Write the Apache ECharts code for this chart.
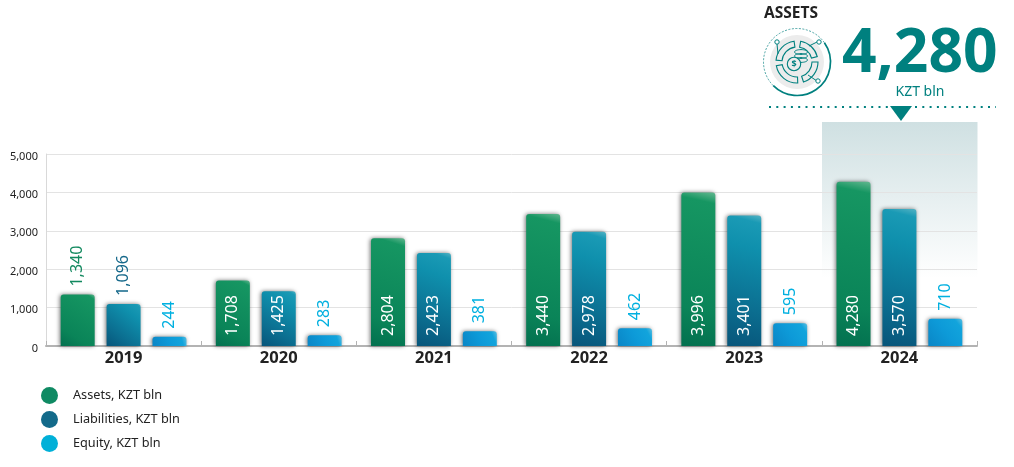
<!DOCTYPE html>
<html><head><meta charset="utf-8">
<style>html,body{margin:0;padding:0;background:#fff}#c{width:1014px;height:467px}</style>
<script src="https://cdn.jsdelivr.net/npm/echarts@6/dist/echarts.min.js"></script>
</head><body><div id="c"></div>
<script>
const years = ['2019','2020','2021','2022','2023','2024'];
const assets = [1340,1708,2804,3440,3996,4280];
const liabilities = [1096,1425,2423,2978,3401,3570];
const equity = [244,283,381,462,595,710];
const yTicks = [0,1000,2000,3000,4000,5000];
const seriesNames = ['Assets, KZT bln','Liabilities, KZT bln','Equity, KZT bln'];
const labelColors = ['#12895f','#15688a','#00b0e0'];
const TEAL = '#00807f';
const FONT = '"Noto Sans", sans-serif';
const fmt = v => v.toLocaleString('en-US');
const chart = echarts.init(document.getElementById('c'), null, {renderer:'canvas'});

function grad(stops){
  return new echarts.graphic.LinearGradient(0,1,1,0,stops.map(s=>({offset:s[0],color:s[1]})));
}
const fills = [
  grad([[0,'#03704f'],[.25,'#0a8458'],[.93,'#169662'],[1,'#62b78f']]),
  grad([[0,'#07557a'],[.3,'#0b6e90'],[.75,'#0f90ad'],[.94,'#1a9ab5'],[1,'#55b3c4']]),
  grad([[0,'#0a86c6'],[.5,'#0d9ad8'],[.85,'#12a4dc'],[1,'#5cbfe2']])
];
function mkSeries(i,data,insideFrom){
  return {
    name: seriesNames[i], type:'bar', data: data.map(v=>{
      const inside = v>=insideFrom;
      return {value:v,label: inside
        ? {position:'insideBottom',distance:10,color:'#fff'}
        : {position:'top',distance:8,color:labelColors[i]}};
    }),
    barWidth:34, barGap:'35%',
    itemStyle:{color:fills[i],borderRadius:[3,3,0,0],shadowColor:'rgba(0,0,0,.55)',shadowBlur:4,shadowOffsetX:-1,shadowOffsetY:0},
    label:{show:true,rotate:90,align:'left',verticalAlign:'middle',fontFamily:FONT,fontSize:16,formatter:p=>fmt(p.value)}
  };
}
const cx=797, cy=62;
const rad=d=>d*Math.PI/180;
const arc=(r,a,b,w,dash)=>({type:'arc',shape:{cx,cy,r,startAngle:rad(a),endAngle:rad(b)},style:{stroke:TEAL,lineWidth:w,fill:null,lineDash:dash||null}});
const band=(r0,r,a,b)=>({type:'sector',shape:{cx,cy,r0,r,startAngle:rad(a),endAngle:rad(b)},style:{fill:'none',stroke:TEAL,lineWidth:1.1}});
const seg=(x1,y1,x2,y2)=>({type:'line',shape:{x1:cx+x1,y1:cy+y1,x2:cx+x2,y2:cy+y2},style:{stroke:TEAL,lineWidth:1}});
const node=(x,y)=>({type:'circle',shape:{cx:cx+x,cy:cy+y,r:2.2},style:{fill:'#fff',stroke:TEAL,lineWidth:1}});
const icon=[
  {type:'circle',shape:{cx,cy,r:27},style:{fill:'#ececec'}},
  arc(33.5,-35,135,1.7),
  arc(33.5,135,325,.7,[2,1.5]),
  band(15,21,-80,-15),band(15,21,0,72),band(15,21,88,170),band(15,21,185,262),
  seg(-20,-18,-19,-8),seg(20,-20,12,-16),seg(20,19,11,13),
  node(-20,-20),node(22,-20),node(21,19),
  {type:'ellipse',shape:{cx:cx+4,cy:cy-10,rx:6.5,ry:2.4},style:{fill:'none',stroke:TEAL,lineWidth:1}},
  {type:'ellipse',shape:{cx:cx+4,cy:cy-6,rx:6.5,ry:2.4},style:{fill:'none',stroke:TEAL,lineWidth:1}},
  {type:'ellipse',shape:{cx:cx+4,cy:cy-2,rx:6.5,ry:2.4},style:{fill:'none',stroke:TEAL,lineWidth:1}},
  {type:'circle',shape:{cx:cx-3,cy:cy+2,r:6.7},style:{fill:'#ececec',stroke:TEAL,lineWidth:1.1}},
  {type:'text',style:{x:cx-3,y:cy+2,text:'$',fill:TEAL,font:'bold 9px '+FONT,align:'center',verticalAlign:'middle'}}
];
chart.setOption({
  animation:false,
  textStyle:{fontFamily:FONT},
  grid:{left:46,right:37,top:154,bottom:121,containLabel:false},
  xAxis:{type:'category',data:years,
    axisLine:{lineStyle:{color:'#b3b3b3',width:2}},
    axisTick:{show:true,inside:true,length:5,alignWithLabel:false,lineStyle:{color:'#b3b3b3',width:1}},
    axisLabel:{color:'#222',fontFamily:FONT,fontWeight:'bold',fontSize:16.5,margin:4}},
  yAxis:{type:'value',min:yTicks[0],max:yTicks[yTicks.length-1],interval:1000,
    axisLine:{show:true,lineStyle:{color:'#d9d9d9',width:1}},axisTick:{show:false},
    splitLine:{lineStyle:{color:'#e3e3e3',width:1}},
    axisLabel:{color:'#222',fontFamily:FONT,fontSize:11,margin:8,verticalAlign:'top',lineHeight:5,formatter:v=>fmt(v)}},
  legend:{orient:'vertical',left:36,top:382,itemWidth:17,itemHeight:17,itemGap:7,icon:'circle',
    textStyle:{color:'#222',fontFamily:FONT,fontSize:12.7,padding:[0,0,0,10]},
    data:seriesNames.map((n,i)=>({name:n,itemStyle:{color:['#0f8a63','#136a8a','#00b0d8'][i],shadowBlur:0}}))},
  series:[mkSeries(0,assets,1500),mkSeries(1,liabilities,1200),mkSeries(2,equity,5000)],
  graphic:{elements:[
    {type:'rect',z:-1,shape:{x:822,y:122,width:155.5,height:156},style:{fill:new echarts.graphic.LinearGradient(0,0,0,1,[{offset:0,color:'#cfe0e2'},{offset:1,color:'#ffffff'}])}},
    {type:'text',style:{x:764,y:14,text:'ASSETS',fill:'#222',font:'bold 15.5px '+FONT,verticalAlign:'middle'}},
    {type:'text',style:{x:842,y:55,text:fmt(assets[assets.length-1]),fill:TEAL,font:'bold 60.5px '+FONT,verticalAlign:'middle'}},
    {type:'text',style:{x:920,y:92,text:'KZT bln',fill:TEAL,font:'14px '+FONT,align:'center',verticalAlign:'middle'}},
    {type:'line',shape:{x1:769,y1:107,x2:996,y2:107},style:{stroke:TEAL,lineWidth:2,lineDash:[2,5.3]}},
    {type:'polygon',shape:{points:[[890,106],[912,106],[901,121]]},style:{fill:TEAL}},
    ...icon
  ]}
});
</script></body></html>
